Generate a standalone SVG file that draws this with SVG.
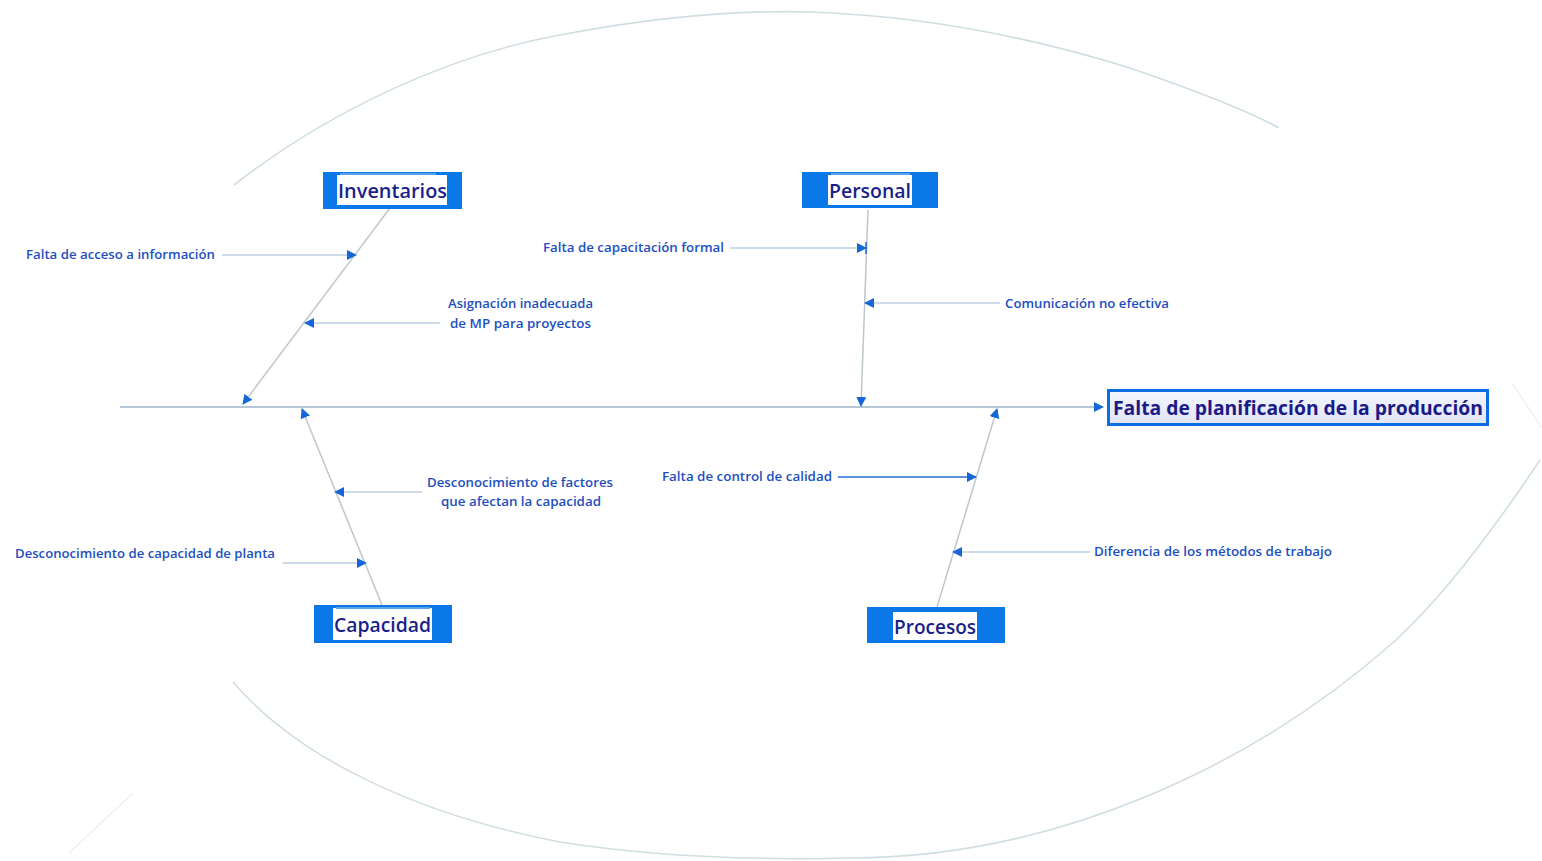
<svg xmlns="http://www.w3.org/2000/svg" width="1542" height="861" viewBox="0 0 1542 861">
  <defs>
    <marker id="tri" viewBox="0 0 10 10" refX="9" refY="5" markerWidth="10" markerHeight="10" markerUnits="userSpaceOnUse" orient="auto">
      <path d="M0,0 L10,5 L0,10 Z" fill="#1566d6"/>
    </marker>
    <linearGradient id="effectFill" x1="0" y1="0" x2="0" y2="1">
      <stop offset="0" stop-color="#f4f6ff"/>
      <stop offset="1" stop-color="#dfe4f8"/>
    </linearGradient>
    <style>
      .outline { fill: none; stroke: #d0dee2; stroke-width: 1.6; }
      .faint { fill: none; stroke: #e8eff1; stroke-width: 1.2; }
      .spine { stroke: #b7c6d6; stroke-width: 2; fill: none; }
      .bone { stroke: #bcc7ce; stroke-width: 1.5; fill: none; }
      .sub { stroke: #bcd0e0; stroke-width: 1.6; fill: none; }
      .subdark { stroke: #2a6fd0; stroke-width: 1.6; fill: none; }
      .catOuter { fill: #0a78e6; }
      .catInner { fill: #ffffff; }
      .catTop { stroke: #5aa2ea; stroke-width: 2; }
      .catText { font-family: "Open Sans", "Noto Sans", sans-serif; font-size: 20px; font-weight: 600; fill: #1b1f8a; }
      .label { font-family: "Open Sans", "Noto Sans", sans-serif; font-size: 13px; font-weight: 600; fill: #1d4fbf; }
      .effectText { font-family: "Open Sans", "Noto Sans", sans-serif; font-size: 19px; font-weight: 700; fill: #1b1a86; }
    </style>
  </defs>

  <rect width="1542" height="861" fill="#ffffff"/>

  <!-- fish outline -->
  <g id="outline">
    <path class="outline" d="M234,185 C330,110 450,55 560,35 C660,16 740,10 810,12 C930,16 1040,40 1130,68 C1200,92 1250,112 1279,128"/>
    <path class="outline" d="M233,682 C300,760 420,815 560,842 C660,858 760,860 850,858 C1050,858 1250,770 1396,640 C1450,590 1500,520 1540,460"/>
    <path class="faint" d="M1512,383 L1542,428"/>
    <path class="faint" d="M69,853 L133,793"/>
  </g>

  <!-- connectors -->
  <g id="connectors">
    <line class="spine" x1="120" y1="407" x2="1103" y2="407" marker-end="url(#tri)"/>
    <line class="bone" x1="390" y1="208" x2="243" y2="404" marker-end="url(#tri)"/>
    <line class="bone" x1="868" y1="210" x2="861" y2="406" marker-end="url(#tri)"/>
    <line class="bone" x1="382" y1="605" x2="302" y2="409" marker-end="url(#tri)"/>
    <line class="bone" x1="937" y1="607" x2="997" y2="409" marker-end="url(#tri)"/>

    <line class="sub" x1="222" y1="255" x2="356" y2="255" marker-end="url(#tri)"/>
    <line class="sub" x1="440" y1="323" x2="305" y2="323" marker-end="url(#tri)"/>
    <line class="sub" x1="730" y1="248" x2="866" y2="248" marker-end="url(#tri)"/>
    <line x1="866" y1="242" x2="866" y2="254" stroke="#1566d6" stroke-width="1.5"/>
    <line class="sub" x1="1000" y1="303" x2="865" y2="303" marker-end="url(#tri)"/>
    <line class="sub" x1="422" y1="492" x2="335" y2="492" marker-end="url(#tri)"/>
    <line class="sub" x1="283" y1="563" x2="366" y2="563" marker-end="url(#tri)"/>
    <line class="subdark" x1="838" y1="477" x2="976" y2="477" marker-end="url(#tri)"/>
    <line class="sub" x1="1090" y1="552" x2="953" y2="552" marker-end="url(#tri)"/>
  </g>

  <!-- effect -->
  <g id="effect">
    <rect x="1108.5" y="390.5" width="379" height="34" fill="url(#effectFill)" stroke="#0a6ee0" stroke-width="3"/>
    <text class="effectText" x="1113" y="415" textLength="370" lengthAdjust="spacingAndGlyphs">Falta de planificación de la producción</text>
  </g>

  <!-- categories -->
  <g id="cat-inventarios">
    <rect class="catOuter" x="323" y="172" width="139" height="37"/>
    <rect class="catInner" x="337" y="175" width="110" height="30"/>
    <line class="catTop" x1="340" y1="174" x2="436" y2="174"/>
    <text class="catText" x="338" y="198" textLength="109" lengthAdjust="spacingAndGlyphs">Inventarios</text>
  </g>
  <g id="cat-personal">
    <rect class="catOuter" x="802" y="172" width="136" height="36"/>
    <rect class="catInner" x="828" y="175" width="84" height="30"/>
    <line class="catTop" x1="831" y1="174" x2="910" y2="174"/>
    <text class="catText" x="829" y="198" textLength="82" lengthAdjust="spacingAndGlyphs">Personal</text>
  </g>
  <g id="cat-capacidad">
    <rect class="catOuter" x="314" y="605" width="138" height="38"/>
    <rect class="catInner" x="333" y="608" width="99" height="32"/>
    <line class="catTop" x1="336" y1="608" x2="430" y2="608"/>
    <text class="catText" x="334" y="632" textLength="97" lengthAdjust="spacingAndGlyphs">Capacidad</text>
  </g>
  <g id="cat-procesos">
    <rect class="catOuter" x="867" y="607" width="138" height="36"/>
    <rect class="catInner" x="893" y="612" width="84" height="28"/>
    <text class="catText" x="894" y="634" textLength="82" lengthAdjust="spacingAndGlyphs">Procesos</text>
  </g>

  <!-- causes -->
  <g id="cause-acceso">
    <text class="label" x="26" y="259" textLength="189" lengthAdjust="spacingAndGlyphs">Falta de acceso a información</text>
  </g>
  <g id="cause-asignacion">
    <text class="label" x="448" y="308" textLength="145" lengthAdjust="spacingAndGlyphs">Asignación inadecuada</text>
    <text class="label" x="450" y="328" textLength="141" lengthAdjust="spacingAndGlyphs">de MP para proyectos</text>
  </g>
  <g id="cause-capacitacion">
    <text class="label" x="543" y="252" textLength="181" lengthAdjust="spacingAndGlyphs">Falta de capacitación formal</text>
  </g>
  <g id="cause-comunicacion">
    <text class="label" x="1005" y="308" textLength="164" lengthAdjust="spacingAndGlyphs">Comunicación no efectiva</text>
  </g>
  <g id="cause-factores">
    <text class="label" x="427" y="487" textLength="186" lengthAdjust="spacingAndGlyphs">Desconocimiento de factores</text>
    <text class="label" x="441" y="506" textLength="160" lengthAdjust="spacingAndGlyphs">que afectan la capacidad</text>
  </g>
  <g id="cause-planta">
    <text class="label" x="15" y="558" textLength="260" lengthAdjust="spacingAndGlyphs">Desconocimiento de capacidad de planta</text>
  </g>
  <g id="cause-calidad">
    <text class="label" x="662" y="481" textLength="170" lengthAdjust="spacingAndGlyphs">Falta de control de calidad</text>
  </g>
  <g id="cause-metodos">
    <text class="label" x="1094" y="556" textLength="238" lengthAdjust="spacingAndGlyphs">Diferencia de los métodos de trabajo</text>
  </g>
</svg>
